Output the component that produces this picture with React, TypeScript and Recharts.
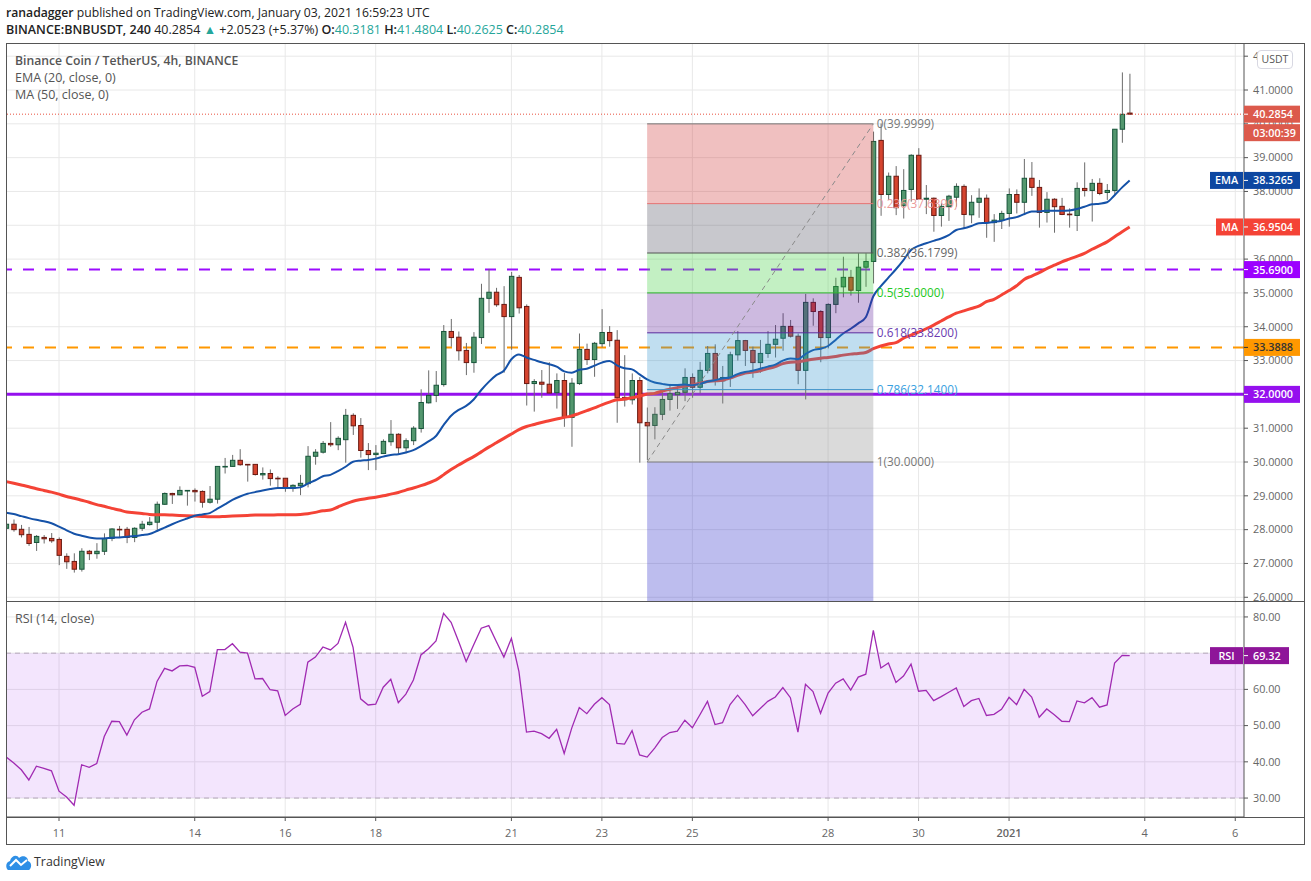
import React from "react";
import {
  ComposedChart, Bar, Line, XAxis, YAxis, CartesianGrid,
  ReferenceLine, ReferenceArea, ReferenceDot,
} from "recharts";

const opens = [28.04,28.16,28.01,27.86,27.62,27.77,27.74,27.71,27.21,27.06,26.83,27.36,27.29,27.36,27.74,28.01,28.01,27.77,28.04,28.15,28.22,28.75,29.07,29.03,29.15,29.16,29.13,28.81,28.90,29.86,29.87,30.05,29.93,29.93,29.62,29.66,29.52,29.52,29.22,29.30,29.36,30.17,30.29,
30.55,30.51,30.66,31.38,31.08,30.34,30.22,30.25,30.60,30.82,30.42,30.63,30.99,31.75,31.97,32.29,33.86,33.69,33.30,32.94,33.68,34.84,35.02,34.66,34.30,35.46,34.60,32.32,32.36,32.30,32.05,32.41,31.32,32.32,33.33,33.03,33.50,33.83,33.60,31.91,31.84,32.41,
31.17,31.08,31.41,31.85,31.99,32.06,32.50,32.21,32.71,33.21,32.40,32.50,33.17,33.59,33.30,32.94,33.21,33.48,33.66,34.01,33.72,32.71,34.72,34.45,33.68,34.66,35.18,35.46,35.07,35.76,
35.93,39.51,37.91,38.45,37.58,38.06,39.07,37.77,37.80,37.29,37.55,37.83,38.15,37.31,37.68,37.80,37.08,37.15,37.35,37.91,37.68,38.39,38.12,37.38,37.77,37.56,37.33,37.29,38.09,38.03,38.24,37.97,38.03,39.84,40.3181];
const highs = [28.40,28.30,28.14,28.08,27.84,27.84,27.90,27.77,27.30,27.30,27.45,27.40,27.60,27.89,28.04,28.11,28.08,28.07,28.26,28.37,28.83,29.10,29.09,29.28,29.17,29.22,29.16,29.29,29.87,30.12,30.21,30.38,29.94,29.93,29.84,29.78,29.58,29.52,29.34,29.62,30.47,30.38,30.62,
31.18,30.76,31.57,31.44,31.30,30.56,30.50,30.67,31.24,30.85,30.70,31.06,32.15,32.71,32.69,34.05,34.23,33.86,33.52,33.84,35.27,35.71,35.15,35.20,35.62,35.53,34.66,32.45,32.72,32.95,32.62,32.63,32.48,33.80,33.50,33.55,34.52,34.02,33.90,33.16,32.62,32.51,
31.61,31.62,32.11,32.31,32.30,32.77,32.62,32.96,33.43,33.48,32.84,33.26,33.87,33.61,33.41,33.61,33.87,34.05,34.40,34.20,33.80,34.97,34.84,34.49,34.69,35.45,36.07,35.68,36.17,36.17,
39.77,40.01,38.56,38.75,38.66,39.10,39.28,38.19,37.82,37.65,37.90,38.24,38.21,37.89,38.09,37.91,37.33,37.43,38.09,38.06,38.96,38.87,38.34,37.98,37.80,37.81,37.50,38.27,38.86,38.37,38.39,38.22,39.84,41.52,41.4804];
const lows = [27.99,27.94,27.77,27.52,27.37,27.59,27.61,26.95,26.84,26.73,26.76,27.10,27.14,27.25,27.66,27.77,27.60,27.63,27.96,28.12,27.97,28.73,28.76,29.02,28.71,28.83,28.65,28.77,28.77,29.66,29.86,29.89,29.42,29.60,29.48,29.30,29.20,29.12,29.12,29.02,29.25,29.92,30.25,
30.45,30.35,29.98,30.80,30.13,29.76,29.76,30.24,30.48,30.24,30.26,30.50,30.87,31.73,31.77,32.23,33.41,33.00,32.57,32.64,33.49,34.41,34.59,32.64,33.32,34.39,31.67,31.49,31.90,32.03,31.58,31.04,30.45,32.28,32.87,32.52,33.39,33.41,31.16,31.64,31.70,29.98,
30.06,30.67,31.24,31.52,31.57,31.80,31.90,32.03,32.62,32.26,31.73,32.22,33.00,32.84,32.49,32.64,33.08,33.09,33.29,33.68,32.30,31.85,34.03,32.95,33.36,34.40,34.87,34.92,34.71,35.18,
35.28,37.28,37.75,37.30,37.20,37.70,37.75,37.33,36.81,36.96,37.13,37.55,36.91,37.06,37.22,36.63,36.51,36.89,36.96,37.35,37.30,37.87,36.93,37.08,36.78,37.30,36.93,36.83,37.85,37.11,37.89,37.75,37.89,39.44,40.2625];
const closes = [28.16,28.00,27.85,27.59,27.80,27.73,27.67,27.24,27.05,26.83,27.36,27.29,27.36,27.74,28.02,28.00,27.77,28.04,28.16,28.22,28.75,29.07,29.03,29.16,29.16,29.12,28.81,28.90,29.87,29.87,30.05,29.92,29.92,29.63,29.66,29.51,29.51,29.22,29.31,29.37,30.17,30.29,30.55,
30.51,30.70,31.38,31.07,30.34,30.22,30.26,30.61,30.82,30.42,30.63,31.00,31.76,31.97,32.27,33.86,33.68,33.29,32.94,33.69,34.84,35.02,34.65,34.30,35.49,34.56,32.32,32.38,32.30,32.04,32.41,31.32,32.33,33.33,33.03,33.51,33.83,33.59,31.90,31.84,32.41,31.16,
31.07,31.41,31.85,32.02,32.06,32.50,32.21,32.71,33.21,32.41,32.50,33.17,33.59,33.30,32.94,33.21,33.48,33.63,34.01,33.72,32.71,34.72,34.45,33.68,34.66,35.19,35.46,35.08,35.76,35.93,
39.48,37.91,38.45,37.52,38.03,39.07,37.77,37.80,37.29,37.56,37.86,38.15,37.32,37.68,37.80,37.08,37.15,37.35,37.91,37.68,38.39,38.12,37.38,37.77,37.55,37.32,37.31,38.09,38.03,38.24,37.94,38.03,39.84,40.28,40.2854];
const ema20 = [28.50,28.46,28.40,28.34,28.29,28.25,28.19,28.09,27.98,27.88,27.82,27.77,27.74,27.74,27.76,27.77,27.79,27.81,27.84,27.87,27.96,28.06,28.16,28.25,28.33,28.41,28.45,28.49,28.62,28.75,28.88,28.98,29.06,29.11,29.16,29.20,29.23,29.23,29.23,29.25,29.36,29.46,29.58,
29.62,29.73,29.86,30.01,30.04,30.06,30.10,30.16,30.21,30.23,30.28,30.35,30.47,30.61,30.77,31.09,31.37,31.54,31.66,31.85,32.13,32.37,32.57,32.70,33.04,33.18,33.09,33.02,32.95,32.89,32.82,32.68,32.64,32.73,32.76,32.85,32.94,32.99,32.86,32.77,32.74,32.59,
32.44,32.35,32.31,32.28,32.28,32.29,32.27,32.31,32.38,32.42,32.47,32.50,32.60,32.66,32.70,32.76,32.82,32.88,33.00,33.06,33.04,33.19,33.31,33.35,33.43,33.61,33.80,33.94,34.10,34.28,
34.90,35.20,35.45,35.70,35.97,36.27,36.39,36.47,36.54,36.61,36.71,36.86,36.91,36.98,37.06,37.07,37.10,37.13,37.20,37.24,37.33,37.41,37.41,37.43,37.43,37.43,37.44,37.48,37.55,37.62,37.64,37.68,37.89,38.12,38.3265];
const ma50 = [29.42,29.37,29.32,29.27,29.21,29.16,29.11,29.05,28.98,28.93,28.87,28.81,28.74,28.69,28.63,28.58,28.52,28.50,28.48,28.45,28.44,28.44,28.43,28.42,28.41,28.40,28.39,28.38,28.38,28.39,28.40,28.41,28.42,28.43,28.43,28.43,28.44,28.44,28.44,28.45,28.47,28.51,28.56,
28.58,28.67,28.76,28.84,28.89,28.93,28.96,29.00,29.05,29.10,29.17,29.23,29.30,29.38,29.47,29.62,29.78,29.91,30.04,30.16,30.30,30.44,30.57,30.70,30.83,30.96,31.05,31.11,31.17,31.22,31.27,31.32,31.36,31.44,31.52,31.60,31.69,31.77,31.84,31.86,31.90,31.95,
32.01,32.03,32.10,32.15,32.20,32.25,32.28,32.33,32.38,32.40,32.42,32.48,32.56,32.63,32.66,32.70,32.76,32.82,32.91,32.95,32.96,33.00,33.04,33.07,33.09,33.12,33.16,33.19,33.21,33.24,
33.35,33.43,33.49,33.53,33.66,33.75,33.84,33.94,34.05,34.17,34.29,34.40,34.47,34.54,34.61,34.74,34.81,34.94,35.07,35.21,35.40,35.50,35.60,35.72,35.82,35.92,36.00,36.08,36.17,36.29,36.40,36.51,36.66,36.81,36.9504];
const rsi14 = [41.3,39.7,37.8,35.0,38.8,38.2,37.5,31.9,30.3,28.0,39.2,38.5,39.5,47.0,51.2,51.1,47.4,51.6,53.7,54.6,62.2,65.8,65.1,66.5,66.6,66.1,58.1,59.4,71.0,71.0,72.6,70.3,70.0,62.9,63.0,59.9,59.6,52.8,54.6,55.9,67.5,68.9,71.7,70.9,72.7,78.5,71.6,57.4,55.7,55.9,60.6,62.8,56.3,58.7,62.6,69.5,71.2,73.4,
81.0,78.5,73.2,67.7,72.3,76.9,77.6,73.2,68.9,74.1,64.9,48.2,48.5,47.8,46.5,49.0,42.3,49.3,55.0,53.3,55.9,57.7,55.8,45.1,44.9,48.6,41.9,41.3,43.8,46.7,48.1,48.5,51.5,49.4,53.0,56.7,50.3,50.8,55.8,58.4,55.8,52.7,54.7,56.7,57.9,60.5,57.7,48.2,61.4,59.4,53.4,59.0,61.7,62.9,59.8,63.4,64.2,
76.3,65.9,67.3,61.9,63.7,67.0,59.5,59.7,56.9,58.0,59.2,60.4,55.3,56.9,57.5,52.8,53.1,54.5,57.8,55.8,60.0,57.9,52.3,54.6,53.0,51.2,51.1,56.8,56.3,57.7,55.1,55.7,67.3,69.4,69.32];

const dayTickIndex = [7, 25, 37, 49, 67, 79, 91, 109, 121, 133, 151, 163];
const dayTickLabels = ["11", "14", "16", "18", "21", "23", "25", "28", "30", "2021", "4", "6"];
const priceTicks = [26, 27, 28, 29, 30, 31, 32, 33, 34, 35, 36, 37, 38, 39, 40, 41, 42];
const rsiTicks = [30, 40, 50, 60, 70, 80];

const fibLevels = [39.9999, 37.6399, 36.1799, 35.0, 33.82, 32.14, 30.0];
const fibNames = ["0", "0.236", "0.382", "0.5", "0.618", "0.786", "1"];
const fibLineColors = ["#787878", "#e57373", "#555555", "#2db52d", "#5b2a9c", "#3a90c8", "#808080"];
const fibTextColors = ["#787878", "#eb9a9a", "#666666", "#22c922", "#6a3bb0", "#38a0e0", "#787878"];
const fibFills = ["#cd2d2d", "#484858", "#37cd37", "#581c97", "#2d91cd", "#848484", "#2626c6"];
const fibStartIndex = 85;
const fibEndIndex = 115;

const candles = opens.map((open, i) => ({
  i, open, high: highs[i], low: lows[i], close: closes[i],
  range: [lows[i], highs[i]], ema: ema20[i], ma: ma50[i], rsi: rsi14[i],
}));

const FONT = "'Open Sans', 'Noto Sans', Arial, sans-serif";
const X_DOMAIN = [-0.03, 164.16];
const PRICE_DOMAIN = [25.89, 42.39];
const RSI_DOMAIN = [24.77, 84.4];
const GRID = "#e8e8e8";
const FRAME = "#555555";
const AXIS_FONT = 10.8;

function Candle(props: any) {
  const { x, y, width, height, payload } = props;
  if (payload == null) return null;
  const top = Math.min(y, y + height);
  const h = Math.max(Math.abs(height), 0.01);
  const span = payload.high - payload.low || 1;
  const at = (v: number) => top + ((payload.high - v) / span) * h;
  const up = payload.close >= payload.open;
  const bodyTop = at(Math.max(payload.open, payload.close));
  const bodyBot = at(Math.min(payload.open, payload.close));
  const cx = x + width / 2;
  return (
    <g>
      <line x1={cx} x2={cx} y1={top} y2={top + h} stroke="#6b6b6b" strokeWidth={1} />
      <rect
        x={cx - 2.2}
        y={bodyTop}
        width={4.4}
        height={Math.max(bodyBot - bodyTop, 0.6)}
        fill={up ? "#53976e" : "#d5442f"}
        stroke={up ? "#17553a" : "#6b1a12"}
        strokeWidth={1}
      />
    </g>
  );
}

function badge(text: string, bg: string, fg: string, tag?: string, w = 56, dy = 0) {
  return (props: any) => {
    const { cx, cy } = props;
    const mid = cy + dy;
    const tagW = tag && tag.length > 2 ? 33 : 27;
    return (
      <g style={{ fontFamily: FONT, fontSize: AXIS_FONT, fontWeight: 600 }}>
        {tag ? <rect x={cx - tagW - 1} y={mid - 8.5} width={tagW} height={17} fill={bg} /> : null}
        {tag ? (
          <text x={cx - 1 - tagW / 2} y={mid + 4} textAnchor="middle" fill={fg}>{tag}</text>
        ) : null}
        <rect x={cx} y={mid - 8.5} width={w} height={17} fill={bg} />
        {dy === 0 ? <line x1={cx} x2={cx + 4} y1={mid} y2={mid} stroke={fg} strokeWidth={1} /> : null}
        <text x={cx + 9} y={mid + 4} fill={fg}>{text}</text>
      </g>
    );
  };
}

function fibLabel(text: string, color: string) {
  return (props: any) => (
    <text x={props.cx + 3.5} y={props.cy + 4} fill={color} style={{ fontFamily: FONT, fontSize: 11.8 }}>{text}</text>
  );
}

function XTick(props: any) {
  const { x, y, payload } = props;
  const idx = dayTickIndex.indexOf(payload.value);
  const label = dayTickLabels[idx];
  return (
    <text x={x} y={y + 14} textAnchor="middle" fill="#666" style={{ fontFamily: FONT, fontSize: 11, fontWeight: label === "2021" ? 600 : 400 }}>
      {label}
    </text>
  );
}

function MainPane() {
  const fibBounds = [...fibLevels, PRICE_DOMAIN[0]];
  return (
    <ComposedChart width={1311} height={881} data={candles} margin={{ top: 43, right: 7, bottom: 280, left: 6 }}>
      <CartesianGrid stroke={GRID} strokeWidth={1} horizontalValues={priceTicks} verticalValues={dayTickIndex} />
      <XAxis dataKey="i" type="number" domain={X_DOMAIN} ticks={dayTickIndex} allowDataOverflow hide />
      <YAxis
        orientation="right" width={60} type="number" domain={PRICE_DOMAIN} ticks={priceTicks} interval={0} allowDataOverflow
        tickFormatter={(v: number) => v.toFixed(4)}
        tick={{ fill: "#666", fontSize: AXIS_FONT, fontFamily: FONT }}
        tickLine={{ stroke: FRAME }} axisLine={{ stroke: FRAME }} tickSize={4} tickMargin={5}
      />
      <ReferenceLine y={32.0} stroke="#9510ee" strokeWidth={3} zIndex={250} />
      <ReferenceLine y={35.69} stroke="#9c0cff" strokeWidth={2} strokeDasharray="11 11" zIndex={250} />
      <ReferenceLine y={33.3888} stroke="#ff9800" strokeWidth={2} strokeDasharray="11 11" zIndex={250} />
      <Bar dataKey="range" barSize={6} shape={Candle} isAnimationActive={false} />
      <Line dataKey="ma" stroke="#f44336" strokeWidth={3} dot={false} activeDot={false} type="monotone" isAnimationActive={false} />
      <Line dataKey="ema" stroke="#1552a8" strokeWidth={2} dot={false} activeDot={false} type="monotone" isAnimationActive={false} />
      <ReferenceLine y={40.2854} stroke="#e8503f" strokeWidth={1} strokeDasharray="1 2" zIndex={450} />
      {fibLevels.map((lvl, k) => (
        <ReferenceArea key={"a" + k} x1={fibStartIndex} x2={fibEndIndex} y1={fibBounds[k + 1]} y2={lvl}
          fill={fibFills[k]} fillOpacity={0.3} stroke="none" zIndex={460} />
      ))}
      {fibLevels.map((lvl, k) => (
        <ReferenceLine key={"l" + k} segment={[{ x: fibStartIndex, y: lvl }, { x: fibEndIndex, y: lvl }]}
          stroke={fibLineColors[k]} strokeWidth={1} zIndex={470} />
      ))}
      <ReferenceLine segment={[{ x: fibStartIndex, y: 30 }, { x: fibEndIndex, y: 39.9999 }]}
        stroke="#8a8a8a" strokeWidth={1} strokeDasharray="5 4" zIndex={470} />
      {fibLevels.map((lvl, k) => (
        <ReferenceDot key={"t" + k} x={fibEndIndex} y={lvl} r={0}
          shape={fibLabel(`${fibNames[k]}(${lvl.toFixed(4)})`, fibTextColors[k])} zIndex={600} />
      ))}
    </ComposedChart>
  );
}

function MainBadges() {
  const right = X_DOMAIN[1];
  return (
    <ComposedChart width={1311} height={881} data={candles} margin={{ top: 43, right: 67, bottom: 280, left: 6 }}>
      <XAxis dataKey="i" type="number" domain={X_DOMAIN} allowDataOverflow hide />
      <YAxis type="number" domain={PRICE_DOMAIN} allowDataOverflow hide />
      <ReferenceDot x={right} y={40.2854} r={0} shape={badge("40.2854", "#dc5a4c", "#fff")} ifOverflow="visible" />
      <ReferenceDot x={right} y={40.2854} r={0} shape={badge("03:00:39", "#dc5a4c", "#fff", undefined, 56, 18.5)} ifOverflow="visible" />
      <ReferenceDot x={right} y={38.3265} r={0} shape={badge("38.3265", "#0d47a1", "#fff", "EMA")} ifOverflow="visible" />
      <ReferenceDot x={right} y={36.9504} r={0} shape={badge("36.9504", "#f44336", "#fff", "MA")} ifOverflow="visible" />
      <ReferenceDot x={right} y={35.69} r={0} shape={badge("35.6900", "#9c00ff", "#fff")} ifOverflow="visible" />
      <ReferenceDot x={right} y={33.3888} r={0} shape={badge("33.3888", "#ff9800", "#333")} ifOverflow="visible" />
      <ReferenceDot x={right} y={32.0} r={0} shape={badge("32.0000", "#9510ee", "#fff")} ifOverflow="visible" />
    </ComposedChart>
  );
}

function RsiPane() {
  return (
    <ComposedChart width={1311} height={881} data={candles} margin={{ top: 601, right: 7, bottom: 37, left: 6 }}>
      <CartesianGrid stroke={GRID} strokeWidth={1} horizontalValues={rsiTicks} verticalValues={dayTickIndex} />
      <XAxis
        dataKey="i" type="number" domain={X_DOMAIN} ticks={dayTickIndex} interval={0} allowDataOverflow height={27}
        tick={XTick} tickLine={{ stroke: FRAME }} axisLine={{ stroke: FRAME }} tickSize={4}
      />
      <YAxis
        orientation="right" width={60} type="number" domain={RSI_DOMAIN} ticks={rsiTicks} interval={0} allowDataOverflow
        tickFormatter={(v: number) => v.toFixed(2)}
        tick={{ fill: "#666", fontSize: AXIS_FONT, fontFamily: FONT }}
        tickLine={{ stroke: FRAME }} axisLine={{ stroke: FRAME }} tickSize={4} tickMargin={5}
      />
      <ReferenceArea y1={30} y2={70} fill="#8500eb" fillOpacity={0.1} stroke="none" />
      <ReferenceLine y={70} stroke="#b5a8bb" strokeDasharray="5 4" strokeWidth={1} />
      <ReferenceLine y={30} stroke="#b5a8bb" strokeDasharray="5 4" strokeWidth={1} />
      <Line dataKey="rsi" stroke="#a02ab2" strokeWidth={1.3} dot={false} activeDot={false} isAnimationActive={false} />
    </ComposedChart>
  );
}

function RsiBadge() {
  return (
    <ComposedChart width={1311} height={881} data={candles} margin={{ top: 601, right: 67, bottom: 64, left: 6 }}>
      <XAxis dataKey="i" type="number" domain={X_DOMAIN} allowDataOverflow hide />
      <YAxis type="number" domain={RSI_DOMAIN} allowDataOverflow hide />
      <ReferenceDot x={X_DOMAIN[1]} y={69.32} r={0} shape={badge("69.32", "#8e1599", "#fff", "RSI", 45)} ifOverflow="visible" />
    </ComposedChart>
  );
}

const abs = (left: number, top: number, extra: React.CSSProperties = {}): React.CSSProperties => ({
  position: "absolute", left, top, whiteSpace: "nowrap", fontFamily: FONT, ...extra,
});
const teal = { color: "#26a69a" };

export default function App() {
  return (
    <div style={{ position: "absolute", left: 0, top: 0, width: 1311, height: 881, background: "#fff", overflow: "hidden" }}>
      <div style={abs(0, 0)}><MainPane /></div>
      <div style={abs(0, 0)}><RsiPane /></div>
      <div style={abs(0, 0)}><MainBadges /></div>
      <div style={abs(0, 0)}><RsiBadge /></div>

      <div style={abs(6, 43, { width: 1297, height: 800, border: `1px solid ${FRAME}`, pointerEvents: "none" })} />
      <div style={abs(6, 600.5, { width: 1298, height: 1, background: FRAME })} />
      <div style={abs(6, 817, { width: 1298, height: 1, background: FRAME })} />

      <div style={abs(6, 4, { fontSize: 12.2, color: "#222" })}>
        <b style={{ fontWeight: 600 }}>ranadagger</b> published on TradingView.com, January 03, 2021 16:59:23 UTC
      </div>
      <div style={abs(6, 21, { fontSize: 12.5, color: "#222" })}>
        <b style={{ fontWeight: 600 }}>BINANCE:BNBUSDT, 240</b> 40.2854 <span style={teal}>▲</span> +2.0523 (+5.37%){" "}
        <b style={{ fontWeight: 600 }}>O:</b><span style={teal}>40.3181</span>{" "}
        <b style={{ fontWeight: 600 }}>H:</b><span style={teal}>41.4804</span>{" "}
        <b style={{ fontWeight: 600 }}>L:</b><span style={teal}>40.2625</span>{" "}
        <b style={{ fontWeight: 600 }}>C:</b><span style={teal}>40.2854</span>
      </div>

      <div style={abs(15, 52, { fontSize: 12.2, color: "#555", fontWeight: 600 })}>Binance Coin / TetherUS, 4h, BINANCE</div>
      <div style={abs(15, 69, { fontSize: 12.5, color: "#555" })}>EMA (20, close, 0)</div>
      <div style={abs(15, 86, { fontSize: 12.5, color: "#555" })}>MA (50, close, 0)</div>
      <div style={abs(15, 610, { fontSize: 12.5, color: "#555" })}>RSI (14, close)</div>

      <div style={abs(1257, 50, {
        width: 34, height: 17, lineHeight: "17px", textAlign: "center", fontSize: 10.5, color: "#555",
        background: "#fff", border: "1px solid #d8d8e2", borderRadius: 4,
      })}>USDT</div>

      <svg style={abs(6, 853)} width={26} height={18} viewBox="0 0 26 18">
        <path d="M2 17 C-1 14 0 9 4 8 C5 3 11 1 13 5 C16 2 22 3 22 8 C26 9 26 15 23 17 Z" fill="#2e8fe6" />
        <path d="M4 13 L10 7 L15 12 L21 7" fill="none" stroke="#fff" strokeWidth={2} />
      </svg>
      <div style={abs(34, 853, { fontSize: 12.4, color: "#333" })}>TradingView</div>
    </div>
  );
}
